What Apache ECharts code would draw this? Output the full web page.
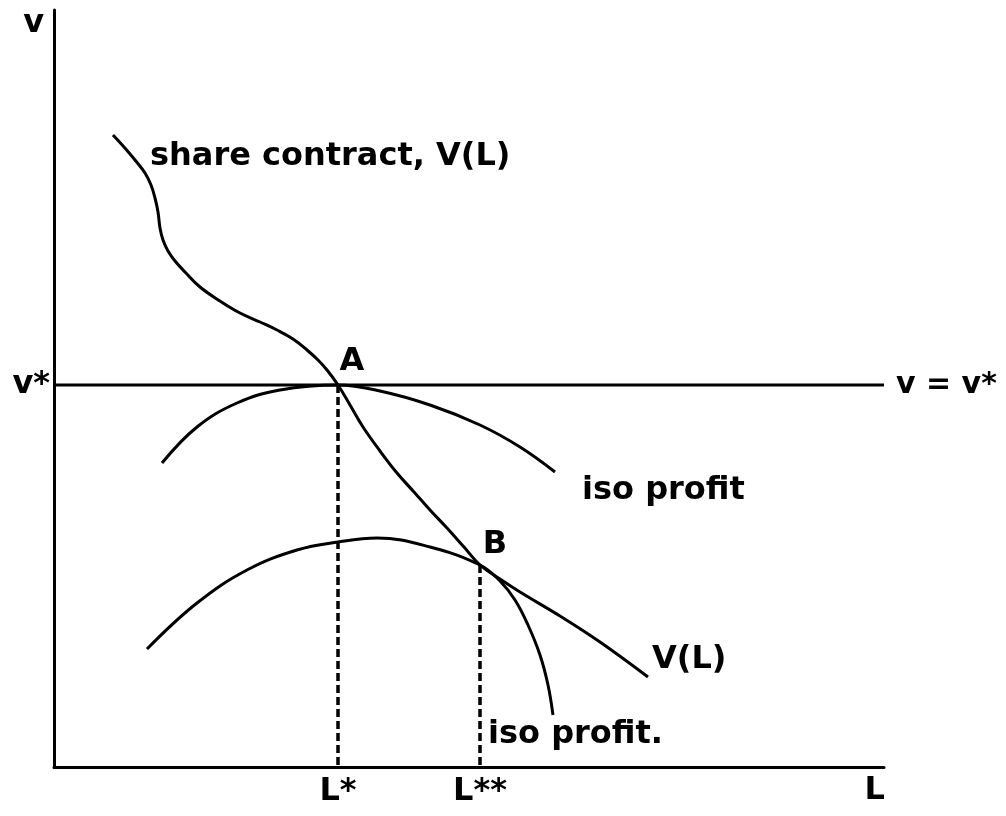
<!DOCTYPE html>
<html>
<head>
<meta charset="utf-8">
<script src="https://cdn.jsdelivr.net/npm/echarts@6/dist/echarts.min.js"></script>
<style>
  html, body { margin: 0; padding: 0; background: #fff; }
  #chart { width: 1006px; height: 816px; }
</style>
</head>
<body>
<div id="chart"></div>
<script>
// axis extents (units along L and v)
const L_MAX = 830
const V_MAX = 757

// special values
const L_STAR = 284
const L_STAR2 = 426
const V_STAR = 382
const V_B = 202

// share contract V(L)
const shareContract = [
  [59, 632], [70, 620], [81, 607], [91, 594], [97, 582], [101, 569], [104, 555],
  [106, 539], [109, 527], [114, 516], [121, 506], [131, 495], [146, 480], [166, 466],
  [186, 454], [206, 445], [223, 437], [239, 428], [253, 417], [264, 407], [273, 397],
  [284, 382], [296, 362], [309, 340], [326, 316], [343, 294], [360, 275], [376, 257],
  [393, 239], [410, 220], [426, 202], [446, 188], [466, 175], [506, 151], [546, 125],
  [594, 90],
]

// upper iso profit curve (tangent to v = v* at A)
const isoProfit1 = [
  [108, 304], [143, 340], [183, 364], [226, 377], [284, 382], [326, 376],
  [376, 362], [426, 342], [466, 320], [501, 295],
]

// lower iso profit curve (tangent to V(L) at B)
const isoProfit2 = [
  [93, 118], [143, 164], [193, 197], [243, 217], [284, 225], [323, 229], [376, 220],
  [426, 202], [446, 186], [461, 167], [474, 142], [486, 112], [494, 82], [499, 52],
]

// text labels: [L, v, text, placement]
const notes = [
  [96, 610, 'share contract, V(L)', 'right'],
  [298, 405, 'A', 'inside'],
  [441, 222, 'B', 'inside'],
  [528, 276, 'iso profit', 'right'],
  [598, 107, 'V(L)', 'right'],
  [434, 32, 'iso profit.', 'right'],
]

const FONT = { fontFamily: 'DejaVu Sans', fontWeight: 'bold', fontSize: 32, color: '#000' }
const ink = { color: '#000', width: 3 }
const dashed = { color: '#000', width: 3.5, type: [8, 4] }

const chart = echarts.init(document.getElementById('chart'))
chart.setOption({
  animation: false,
  backgroundColor: '#fff',
  grid: { left: 54, right: 122, top: 10, bottom: 49 },
  xAxis: {
    type: 'value',
    min: 0,
    max: L_MAX,
    name: 'L',
    nameLocation: 'end',
    nameGap: 1,
    nameTextStyle: { ...FONT, align: 'right', verticalAlign: 'top', padding: [8, 0, 0, 0] },
    axisLine: { lineStyle: ink },
    axisTick: { show: false },
    splitLine: { show: false },
    axisLabel: {
      ...FONT,
      customValues: [L_STAR, L_STAR2],
      margin: 9,
      formatter: v => (v === L_STAR ? 'L*' : 'L**'),
    },
  },
  yAxis: {
    type: 'value',
    min: 0,
    max: V_MAX,
    name: 'v',
    nameLocation: 'end',
    nameGap: -30,
    nameTextStyle: { ...FONT, align: 'right', padding: [0, 10, 0, 0] },
    axisLine: { lineStyle: ink },
    axisTick: { show: false },
    splitLine: { show: false },
    axisLabel: {
      ...FONT,
      customValues: [V_STAR],
      margin: 4,
      formatter: () => 'v*',
    },
  },
  series: [
    {
      type: 'line',
      data: [[0, V_STAR], [L_MAX, V_STAR]],
      showSymbol: false,
      lineStyle: ink,
      endLabel: { show: true, ...FONT, fontSize: 30, distance: 12, formatter: 'v = v*' },
    },
    { type: 'line', data: [[L_STAR, V_STAR], [L_STAR, 0]], showSymbol: false, lineStyle: dashed },
    { type: 'line', data: [[L_STAR2, V_B], [L_STAR2, 0]], showSymbol: false, lineStyle: dashed },
    { type: 'line', data: shareContract, smooth: 0.4, showSymbol: false, lineStyle: ink },
    { type: 'line', data: isoProfit1, smooth: 0.4, showSymbol: false, lineStyle: ink },
    { type: 'line', data: isoProfit2, smooth: 0.4, showSymbol: false, lineStyle: ink },
    {
      type: 'scatter',
      symbolSize: 0,
      itemStyle: { opacity: 1 },
      data: notes.map(n => ({
        value: [n[0], n[1]],
        label: { show: true, position: n[3], distance: 0, formatter: n[2], ...FONT },
      })),
    },
  ],
})
</script>
</body>
</html>
